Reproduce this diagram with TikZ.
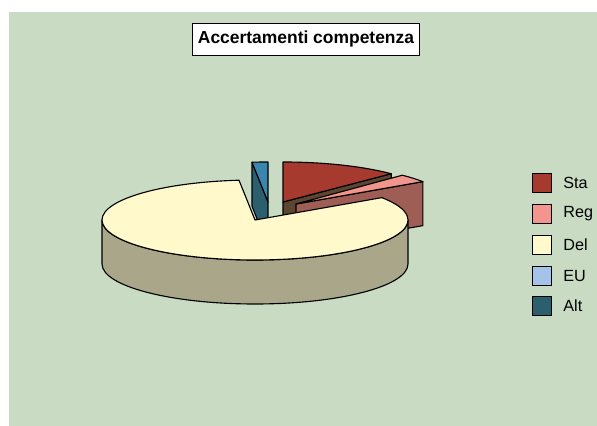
\documentclass[tikz,border=0pt]{standalone}
\usepackage{fontspec}
\setmainfont{Liberation Sans}
\usetikzlibrary{positioning,calc}

\definecolor{bggreen}{HTML}{C9DCC3}
\definecolor{deltop}{HTML}{FFF9CC}
\definecolor{delside}{HTML}{A9A68A}
\definecolor{stacol}{HTML}{A63A2E}
\definecolor{staface}{HTML}{5C4630}
\definecolor{regcol}{HTML}{F2958C}
\definecolor{regface}{HTML}{9E5E55}
\definecolor{eucol}{HTML}{A5C3EA}
\definecolor{alttop}{HTML}{3A86AE}
\definecolor{altface}{HTML}{2B5F6E}

\begin{document}
\begin{tikzpicture}[x=0.025cm,y=0.025cm,
    pieline/.style={draw=black,line width=0.8pt,line join=round},
    titlebox/.style={draw=black,fill=white,line width=0.6pt,inner xsep=3.8pt,minimum height=22.7pt,font=\bfseries\fontsize{12.4}{14}\selectfont},
    legbox/.style={draw=black,line width=0.5pt,minimum size=13.5pt,inner sep=0pt},
    leglabel/.style={inner sep=0pt,font=\fontsize{11.5}{13}\selectfont}]
  \useasboundingbox (0,0) rectangle (597,426);
  \fill[white] (0,0) rectangle (597,426);
  \fill[bggreen] (9,0) rectangle (597,414);

  \node [titlebox] (title) at (306,387) {Accertamenti competenza};

  % slice apexes
  \coordinate (del_c) at (255,206);
  \coordinate (sta_c) at (283,224);
  \coordinate (reg_c) at (296,222);
  \coordinate (alt_c) at (268,224);

  % Alt (exploded)
  \draw [pieline,fill=altface] (alt_c) -- ++(96:153 and 40) -- ++(0,-44) -- ($(alt_c)+(0,-44)$) -- cycle;
  \draw [pieline,fill=alttop] (alt_c) -- ++(90:153 and 40) arc[start angle=90,end angle=96,x radius=153,y radius=40] -- cycle;

  % Sta (exploded)
  \draw [pieline,fill=staface] (sta_c) -- ++(45:153 and 40) -- ++(0,-44) -- ($(sta_c)+(0,-44)$) -- cycle;
  \draw [pieline,fill=stacol] (sta_c) -- ++(45:153 and 40) arc[start angle=45,end angle=90,x radius=153,y radius=40] -- cycle;

  % Reg (exploded)
  \draw [pieline,fill=regface] (reg_c) -- ++(34:153 and 40) -- ++(0,-44) -- ($(reg_c)+(0,-44)$) -- cycle;
  \draw [pieline,fill=regcol] (reg_c) -- ++(34:153 and 40) arc[start angle=34,end angle=46,x radius=153,y radius=40] -- cycle;

  % Del
  \draw [pieline,fill=delside] ($(del_c)+(-153,0)$) arc[start angle=180,end angle=360,x radius=153,y radius=40] -- ++(0,-44) arc[start angle=360,end angle=180,x radius=153,y radius=40] -- cycle;
  \draw [pieline,fill=deltop] (del_c) -- ++(96:153 and 40) arc[start angle=96,end angle=394,x radius=153,y radius=40] -- cycle;

  % legend
  \node [legbox,fill=stacol] (sta_box) at (542,243) {};
  \node [leglabel,right=8pt of sta_box] (sta_text) {Sta};
  \node [legbox,fill=regcol] (reg_box) at (542,212) {};
  \node [leglabel,right=8pt of reg_box] (reg_text) {Reg};
  \node [legbox,fill=deltop] (del_box) at (542,181) {};
  \node [leglabel,right=8pt of del_box] (del_text) {Del};
  \node [legbox,fill=eucol] (eu_box) at (542,150) {};
  \node [leglabel,right=8pt of eu_box] (eu_text) {EU};
  \node [legbox,fill=altface] (alt_box) at (542,120) {};
  \node [leglabel,right=8pt of alt_box] (alt_text) {Alt};
\end{tikzpicture}
\end{document}
